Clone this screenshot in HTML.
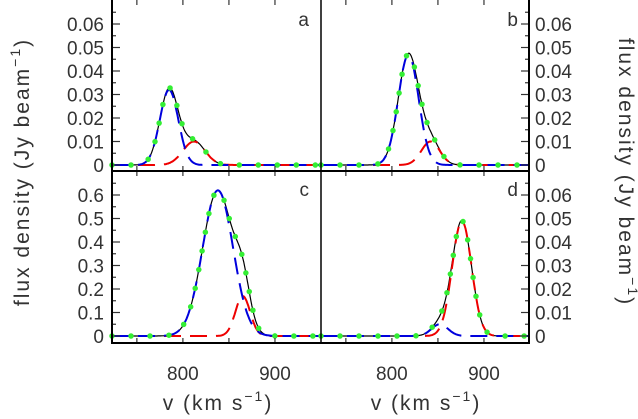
<!DOCTYPE html>
<html><head><meta charset="utf-8"><style>
body{margin:0;background:#fff}
svg{display:block;font-family:"Liberation Sans",sans-serif}
text{fill:#333;font-size:19px}
.ttl{font-size:21px;letter-spacing:2px}
</style></head><body>
<svg id="c" width="638" height="419" viewBox="0 0 638 419"></svg>
<script>
// Gaussian component parameters, per panel a,b,c,d
const panelNames = ['a','b','c','d'];
const blueAmp = [0.032, 0.047, 0.62, 0.005];
const blueCen = [785, 818, 838, 852];
const blueSig = [10, 11, 16.5, 9];
const redAmp = [0.010, 0.010, 0.17, 0.049];
const redCen = [812, 842, 865, 876];
const redSig = [12, 10, 8, 10.5];
const yStepPanel = [0.01, 0.01, 0.1, 0.01];
const yTicksSmall = [0, 0.01, 0.02, 0.03, 0.04, 0.05, 0.06];
const yTickLabelsSmall = ['0','0.01','0.02','0.03','0.04','0.05','0.06'];
const yTicksBig = [0, 0.1, 0.2, 0.3, 0.4, 0.5, 0.6];
const yTickLabelsBig = ['0','0.1','0.2','0.3','0.4','0.5','0.6'];
const xTicks = [750, 800, 850, 900];
const xTickLabelValues = [800, 900];
const xTickLabels = ['800', '900'];

const NS='http://www.w3.org/2000/svg';
const svg=document.getElementById('c');
function mk(t,a,p){const e=document.createElementNS(NS,t);for(const k in a)e.setAttribute(k,a[k]);(p||svg).appendChild(e);return e;}
const L=112,M=321,R=529,T=0,MID=171,B=343;
const V0=723,V1=950;
function xs(v,col){const x0=col?M:L;return x0+(v-V0)/(V1-V0)*(M-L);}
function g(v,a,c,s){return a*Math.exp(-0.5*((v-c)/s)**2);}

for(let i=0;i<4;i++){
  const col=i%2,row=Math.floor(i/2);
  const step=yStepPanel[i];
  const yv=val=>(row?336:165)-val/step*23.5;
  const grp=mk('g',{});
  
  
  let pb='',pr='',pt='';
  for(let v=V0;v<=V1;v+=1){
    const b=g(v,blueAmp[i],blueCen[i],blueSig[i]);
    const r=g(v,redAmp[i],redCen[i],redSig[i]);
    const x=xs(v,col).toFixed(1);
    pb+=(v==V0?'M':'L')+x+','+yv(b).toFixed(1);
    pr+=(v==V0?'M':'L')+x+','+yv(r).toFixed(1);
    pt+=(v==V0?'M':'L')+x+','+yv(b+r).toFixed(1);
  }
  const tl=mk('path',{d:pt,fill:'none',stroke:'#000','stroke-width':1.2},grp);
  
  
  const rl=mk('path',{d:pr,fill:'none',stroke:'#e00','stroke-width':2,'stroke-dasharray':'17 9'},grp);
  
  
  const bl=mk('path',{d:pb,fill:'none',stroke:'#00d','stroke-width':2,'stroke-dasharray':'17 9'},grp);
  
  
  const gl=mk('path',{d:pt,fill:'none',stroke:'#3e3','stroke-width':5.5,'stroke-linecap':'round','stroke-dasharray':'0 19'},grp);
  
  
  const lb=mk('text',{x:xs(V0,col)+(M-L)-12,y:row?196:26,'text-anchor':'end'},grp);
  lb.textContent=panelNames[i];
  
  
  const ax=col?R:L, dir=col?-1:1;
  for(let k=0;k<=13;k++){
    const val=k*step/2; const y=yv(val);
    if(y<(row?MID+2:T+2))continue;
    const len=k%2==0?8:4;
    mk('line',{x1:ax,x2:ax+dir*len,y1:y,y2:y,stroke:'#333','stroke-width':1.2},grp);
  }
  const big=step>0.05;
  const ticks=big?yTicksBig:yTicksSmall, labs=big?yTickLabelsBig:yTickLabelsSmall;
  ticks.forEach((t,k)=>{
    const tx=mk('text',{x:col?535:104,y:yv(t)+7,'text-anchor':col?'start':'end'},grp);
    tx.textContent=labs[k];
    
    
  });
  xTicks.forEach(v=>{
    const x=xs(v,col);
    mk('line',{x1:x,x2:x,y1:row?B:MID,y2:(row?B:MID)-5,stroke:'#333','stroke-width':1.2},grp);
    mk('line',{x1:x,x2:x,y1:row?MID:T,y2:(row?MID:T)+5,stroke:'#333','stroke-width':1.2},grp);
  });
}
[0,1].forEach(col=>{
  xTickLabelValues.forEach((v,k)=>{
    const t=mk('text',{x:xs(v,col),y:380,'text-anchor':'middle'});
    t.textContent=xTickLabels[k];
    
    
  });
  const xt=mk('text',{x:col?426:218,y:410,'text-anchor':'middle','class':'ttl'});
  xt.innerHTML='v  (km  s<tspan dy="-9" font-size="14">−1</tspan><tspan dy="9">)</tspan>';
  
  
});
const yl=mk('text',{x:0,y:0,'text-anchor':'middle','class':'ttl',transform:'translate(29,172) rotate(-90)'});
yl.innerHTML='flux density  (Jy  beam<tspan dy="-9" font-size="14">−1</tspan><tspan dy="9">)</tspan>';


const yr=mk('text',{x:0,y:0,'text-anchor':'middle','class':'ttl',transform:'translate(619,172) rotate(90)'});
yr.innerHTML='flux density  (Jy  beam<tspan dy="-9" font-size="14">−1</tspan><tspan dy="9">)</tspan>';


const fr=mk('g',{fill:'none',stroke:'#000','stroke-width':2});


mk('rect',{x:L,y:T-1,width:R-L,height:B-T+1},fr);
mk('line',{x1:M,x2:M,y1:T,y2:B,'stroke-width':1.5},fr);
mk('line',{x1:L,x2:R,y1:MID,y2:MID},fr);
</script>
</body></html>
